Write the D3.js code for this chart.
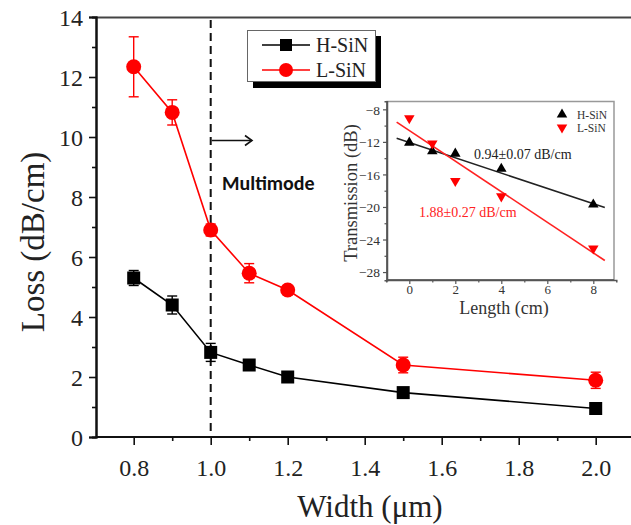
<!DOCTYPE html>
<html><head><meta charset="utf-8">
<script src="https://cdn.jsdelivr.net/npm/d3@7"></script>
<style>body{margin:0;background:#fff}svg{display:block}</style>
</head><body><svg id="c" width="631" height="525"></svg>
<script>
// Main chart data
const widths = [0.8, 0.9, 1.0, 1.1, 1.2, 1.5, 2.0];
const hLoss = [5.3, 4.4, 2.82, 2.4, 2.0, 1.48, 0.95];
const hErr  = [0.25, 0.3, 0.3, 0.15, 0.1, 0.1, 0.1];
const lLoss = [12.34, 10.82, 6.9, 5.46, 4.9, 2.4, 1.89];
const lErr  = [1.0, 0.42, 0.2, 0.32, 0.1, 0.26, 0.27];
const xTicks = [0.8, 1.0, 1.2, 1.4, 1.6, 1.8, 2.0];
const yTicks = [0, 2, 4, 6, 8, 10, 12, 14];
// Inset data
const lengths = [0, 1, 2, 4, 8];
const hTrans = [-12.1, -13.15, -13.45, -15.3, -19.7];
const lTrans = [-9.1, -12.2, -16.8, -18.7, -25.1];
const fitH = {slope: -0.94, intercept: -12.08, label: "0.94±0.07 dB/cm"};
const fitL = {slope: -1.88, intercept: -10.6, label: "1.88±0.27 dB/cm"};
const insetXTicks = [0, 2, 4, 6, 8];
const insetYTicks = [-28, -24, -20, -16, -12, -8];

const SERIF = '"Liberation Serif", "Times New Roman", serif';
const svg = d3.select("#c").attr("font-family", "Liberation Serif");
const x = d3.scaleLinear().domain([0.7, 2.1]).range([95.2, 634.2]);
const y = d3.scaleLinear().domain([0, 14]).range([437, 17]);

// top frame line
svg.append("line").attr("x1", 96).attr("x2", 631).attr("y1", 17.5).attr("y2", 17.5).attr("stroke", "#444").attr("stroke-width", 2);

// axes
const xAx = svg.append("g").attr("transform", "translate(0,437)")
  .call(d3.axisBottom(x).tickValues(xTicks).tickFormat(d3.format(".1f")).tickSize(8).tickPadding(14));
const xMin = svg.append("g").attr("transform", "translate(0,437)")
  .call(d3.axisBottom(x).tickValues(d3.range(0.9, 2.1, 0.2)).tickFormat("").tickSize(4));
const yAx = svg.append("g").attr("transform", "translate(96,0)")
  .call(d3.axisLeft(y).tickValues(yTicks).tickSize(7).tickPadding(6));
svg.append("g").attr("transform", "translate(96,0)")
  .call(d3.axisLeft(y).tickValues(d3.range(1, 14, 2)).tickFormat("").tickSize(4));
svg.selectAll("g").attr("font-family", "Liberation Serif");
svg.selectAll(".domain").attr("stroke", "#111").attr("stroke-width", 2);
svg.selectAll(".tick line").attr("stroke", "#111").attr("stroke-width", 1.6);
xAx.selectAll("text").attr("font-size", 24).attr("fill", "#222");
yAx.selectAll("text").attr("font-size", 24).attr("fill", "#222").attr("dy", "0.35em");
xAx.select(".domain").attr("d", "M96,0H631");
xMin.select(".domain").attr("d", "M96,0H631");

// axis titles
svg.append("text").attr("x", 370).attr("y", 517).attr("text-anchor", "middle").attr("font-size", 31).attr("fill", "#222").text("Width (μm)");
svg.append("text").attr("transform", "translate(44,242) rotate(-90)").attr("text-anchor", "middle").attr("font-size", 33).attr("fill", "#222").text("Loss (dB/cm)");

// dashed line
svg.append("line").attr("x1", x(1.0)).attr("x2", x(1.0)).attr("y1", 20).attr("y2", 437)
  .attr("stroke", "#111").attr("stroke-width", 2).attr("stroke-dasharray", "8,5");
// arrow
svg.append("line").attr("x1", x(1.0) + 1).attr("x2", 252).attr("y1", 140.5).attr("y2", 140.5).attr("stroke", "#111").attr("stroke-width", 1.6);
svg.append("path").attr("d", "M245,135.5L252,140.5L245,145.5").attr("fill", "none").attr("stroke", "#111").attr("stroke-width", 1.6);

function series(vals, errs, color, shape) {
  const pts = widths.map((w, i) => ({w, v: vals[i], e: errs[i]}));
  const line = d3.line().x(d => x(d.w)).y(d => y(d.v));
  svg.append("path").datum(pts).attr("d", line).attr("fill", "none").attr("stroke", color).attr("stroke-width", 1.6);
  const g = svg.append("g");
  pts.forEach(d => {
    const cx = x(d.w);
    g.append("line").attr("x1", cx).attr("x2", cx).attr("y1", y(d.v + d.e)).attr("y2", y(d.v - d.e)).attr("stroke", color).attr("stroke-width", 1.4);
    [d.v + d.e, d.v - d.e].forEach(v => g.append("line").attr("x1", cx - 5).attr("x2", cx + 5).attr("y1", y(v)).attr("y2", y(v)).attr("stroke", color).attr("stroke-width", 1.4));
    if (shape === "square") g.append("rect").attr("x", cx - 6.5).attr("y", y(d.v) - 6.5).attr("width", 13).attr("height", 13).attr("fill", color);
    else g.append("circle").attr("cx", cx).attr("cy", y(d.v)).attr("r", 7.5).attr("fill", color);
  });
}
series(hLoss, hErr, "#000", "square");
series(lLoss, lErr, "#ff0000", "circle");

// legend
svg.append("rect").attr("x", 253).attr("y", 36).attr("width", 128).attr("height", 52).attr("fill", "#000");
svg.append("rect").attr("x", 247.5).attr("y", 30.5).attr("width", 128).attr("height", 51).attr("fill", "#fff").attr("stroke", "#666").attr("stroke-width", 1);
[["H-SiN", "#000", "square", 45], ["L-SiN", "#ff0000", "circle", 70]].forEach(([t, c, s, yy]) => {
  svg.append("line").attr("x1", 262).attr("x2", 310).attr("y1", yy).attr("y2", yy).attr("stroke", c).attr("stroke-width", 1.6);
  if (s === "square") svg.append("rect").attr("x", 280).attr("y", yy - 6).attr("width", 12).attr("height", 12).attr("fill", c);
  else svg.append("circle").attr("cx", 286).attr("cy", yy).attr("r", 7).attr("fill", c);
  svg.append("text").attr("x", 316).attr("y", yy + 7).attr("font-size", 20).attr("fill", "#222").text(t);
});

// ===== inset =====
const ix = d3.scaleLinear().domain([-1, 9]).range([386.3, 616.3]);
const iy = d3.scaleLinear().domain([-29, -7]).range([280.2, 101.2]);
const inset = svg.append("g");
inset.append("rect").attr("x", 387).attr("y", 101.5).attr("width", 227).attr("height", 178.5).attr("fill", "#fff").attr("stroke", "#999").attr("stroke-width", 1.5);
const ixAx = inset.append("g").attr("transform", "translate(0,280)")
  .call(d3.axisBottom(ix).tickValues(insetXTicks).tickSize(4).tickPadding(1));
inset.append("g").attr("transform", "translate(0,280)").call(d3.axisBottom(ix).tickValues([1, 3, 5, 7]).tickFormat("").tickSize(2.5));
const iyAx = inset.append("g").attr("transform", "translate(387,0)")
  .call(d3.axisLeft(iy).tickValues(insetYTicks).tickSize(4).tickPadding(3));
inset.append("g").attr("transform", "translate(387,0)").call(d3.axisLeft(iy).tickValues([-26, -22, -18, -14, -10]).tickFormat("").tickSize(2.5));
inset.selectAll("g").attr("font-family", "Liberation Serif");
inset.selectAll(".domain").attr("stroke", "#555").attr("stroke-width", 1.5);
ixAx.select(".domain").attr("d", "M387,0H614");
iyAx.select(".domain").attr("d", "M0,101.5V280");
inset.selectAll(".tick line").attr("stroke", "#555").attr("stroke-width", 1.2);
inset.selectAll(".tick text").attr("font-size", 13).attr("fill", "#333");
iyAx.selectAll("text").attr("dy", "0.35em").attr("font-size", 13.5);
inset.append("text").attr("x", 504).attr("y", 314).attr("text-anchor", "middle").attr("font-size", 18).attr("fill", "#333").text("Length (cm)");
inset.append("text").attr("transform", "translate(357,193) rotate(-90)").attr("text-anchor", "middle").attr("font-size", 18.5).attr("fill", "#333").text("Transmission (dB)");

[[fitH, "#222"], [fitL, "#ff2222"]].forEach(([f, c]) => {
  const ends = [-0.55, 8.5];
  inset.append("line").attr("x1", ix(ends[0])).attr("x2", ix(ends[1]))
    .attr("y1", iy(f.intercept + f.slope * ends[0])).attr("y2", iy(f.intercept + f.slope * ends[1]))
    .attr("stroke", c).attr("stroke-width", 1.6);
});
const tri = d3.symbol().type(d3.symbolTriangle).size(48);
lengths.forEach((L, i) => {
  inset.append("path").attr("d", tri).attr("transform", `translate(${ix(L)},${iy(hTrans[i])})`).attr("fill", "#000");
  inset.append("path").attr("d", tri).attr("transform", `translate(${ix(L)},${iy(lTrans[i])}) rotate(180)`).attr("fill", "#ff0000");
});
inset.append("text").attr("x", 474).attr("y", 158.5).attr("font-size", 14).attr("fill", "#222").text(fitH.label);
inset.append("text").attr("x", 419).attr("y", 217).attr("font-size", 14).attr("fill", "#ff2222").text(fitL.label);
// inset legend
inset.append("path").attr("d", tri).attr("transform", "translate(562,114.5)").attr("fill", "#000");
inset.append("text").attr("x", 577).attr("y", 118.5).attr("font-size", 11.5).attr("fill", "#333").text("H-SiN");
inset.append("path").attr("d", tri).attr("transform", "translate(562,127.5) rotate(180)").attr("fill", "#ff0000");
inset.append("text").attr("x", 577).attr("y", 131.5).attr("font-size", 11.5).attr("fill", "#333").text("L-SiN");

// all texts serif
svg.selectAll("text").style("font-family", SERIF);
svg.append("text").attr("x", 222).attr("y", 190).attr("font-size", 20).attr("font-weight", "bold")
  .style("font-family", '"Carlito", "Open Sans", sans-serif').attr("fill", "#111").text("Multimode");
</script></body></html>
